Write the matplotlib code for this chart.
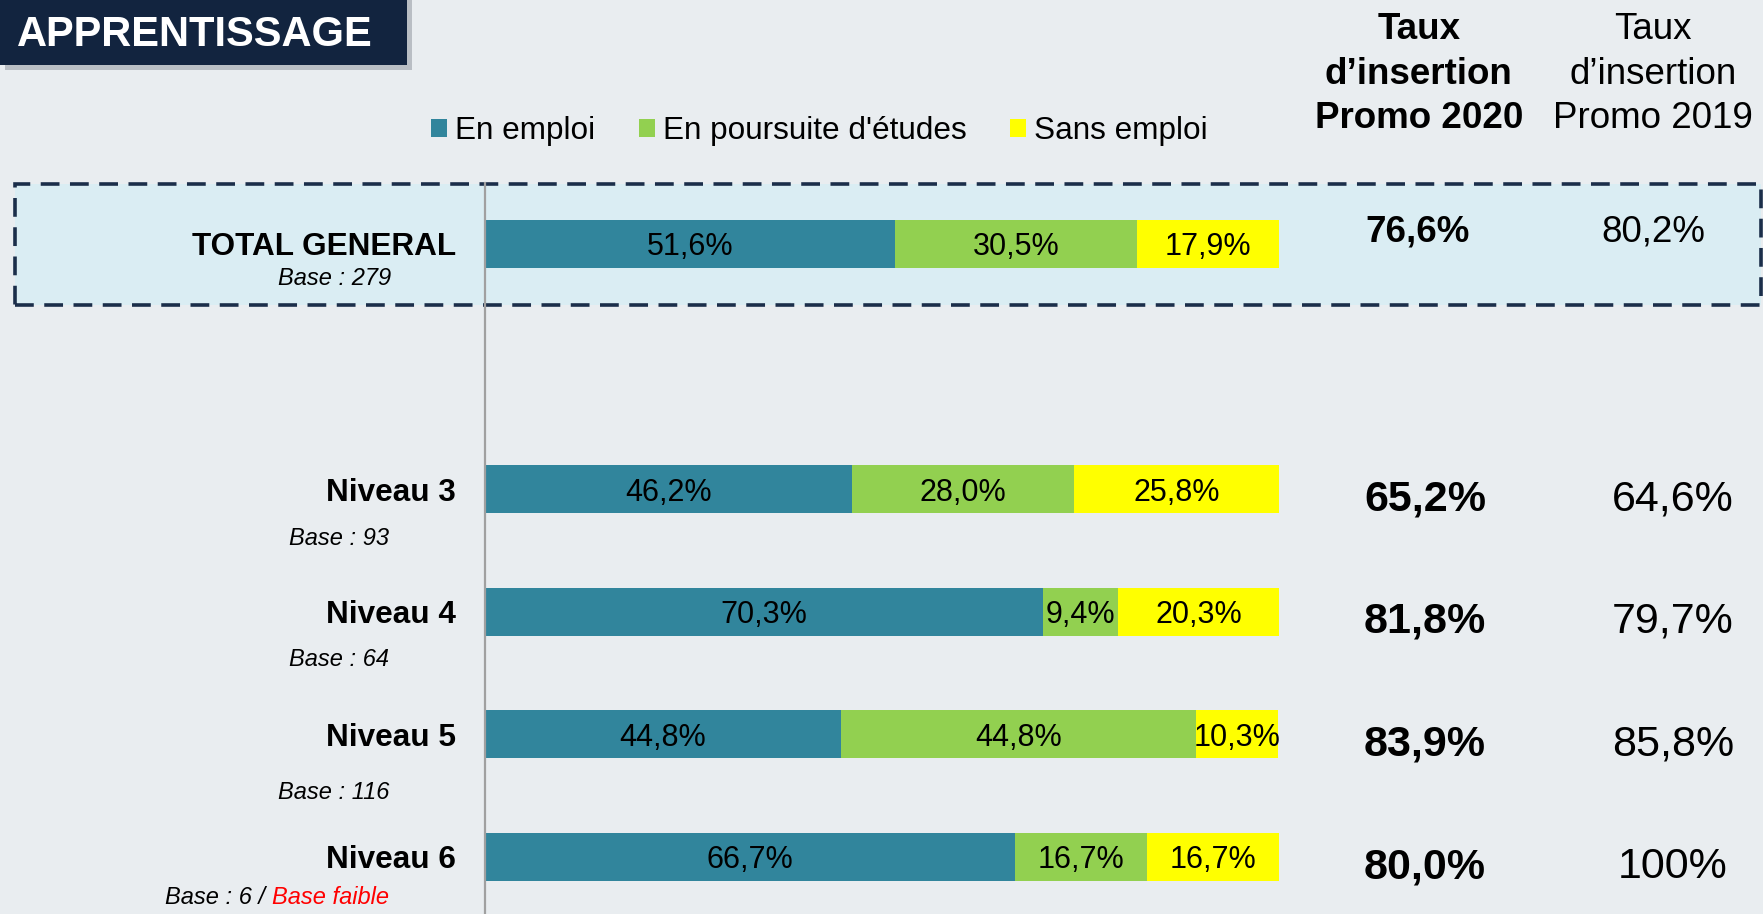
import matplotlib.pyplot as plt
from matplotlib.patches import Rectangle

plt.rcParams['font.family'] = ['Liberation Sans', 'DejaVu Sans']

categories = ['TOTAL GENERAL', 'Niveau 3', 'Niveau 4', 'Niveau 5', 'Niveau 6']
bases = ['Base : 279', 'Base : 93', 'Base : 64', 'Base : 116', 'Base : 6']
low_base = [False, False, False, False, True]
series_labels = ['En emploi', "En poursuite d'études", 'Sans emploi']
en_emploi = [51.6, 46.2, 70.3, 44.8, 66.7]
poursuite = [30.5, 28.0, 9.4, 44.8, 16.7]
sans_emploi = [17.9, 25.8, 20.3, 10.3, 16.7]
taux_2020 = ['76,6%', '65,2%', '81,8%', '83,9%', '80,0%']
taux_2019 = ['80,2%', '64,6%', '79,7%', '85,8%', '100%']

colors = ['#31859C', '#92D050', '#FFFF00']
bg = '#E9EDF0'
navy = '#12243F'

W, H = 1763, 914
fig = plt.figure(figsize=(W / 100, H / 100), dpi=100, facecolor=bg)

# total row on top, gap, then the levels
pos = [0, 2, 3, 4, 5]

# highlighted box around total row
fig.add_artist(Rectangle((15 / W, 1 - 305 / H), (1761 - 15) / W, 121 / H,
                         transform=fig.transFigure, facecolor='#DAEDF3',
                         edgecolor='#1B2E4A', lw=2.6, ls=(0, (5.2, 2.9)),
                         zorder=-1))

# header box + shadow
fig.add_artist(Rectangle((5 / W, 1 - 70 / H), 407 / W, 70 / H,
                         transform=fig.transFigure, facecolor='#9AA0A8',
                         edgecolor='none', alpha=0.6, zorder=2))
fig.add_artist(Rectangle((0, 1 - 65 / H), 407 / W, 65 / H,
                         transform=fig.transFigure, facecolor=navy,
                         edgecolor='none', zorder=3))
fig.text(17 / W, 1 - 31 / H, 'APPRENTISSAGE', color='white', fontsize=30,
         fontweight='bold', ha='left', va='center_baseline', zorder=4)

ax = fig.add_axes([485 / W, 0, 794 / W, (H - 182.7) / H])
ax.set_facecolor('none')
ax.set_xlim(0, 100)
ax.set_ylim(5.465, -0.5)
for s in ['top', 'right', 'bottom']:
    ax.spines[s].set_visible(False)
ax.spines['left'].set_color('#A0A0A0')
ax.spines['left'].set_linewidth(1.6)
ax.set_xticks([])
ax.set_yticks([])

left = [0] * len(pos)
handles = []
for vals, col, lab in zip([en_emploi, poursuite, sans_emploi], colors, series_labels):
    bars = ax.barh(pos, vals, left=left, height=0.39, color=col, label=lab)
    txts = ax.bar_label(bars, labels=[f'{v:.1f}'.replace('.', ',') + '%' for v in vals],
                        label_type='center', fontsize=22, color='black')
    for t in txts:
        t.set_va('center_baseline')
    handles.append(bars)
    left = [a + b for a, b in zip(left, vals)]

# row labels
for i, (y, cat, base) in enumerate(zip(pos, categories, bases)):
    ax.text(-3.65, y, cat, ha='right', va='center_baseline', fontsize=22.7,
            fontweight='bold', clip_on=False)
    if i == 0:
        ax.text(-18.9, y + 0.285, base, ha='center', va='center', fontsize=17,
                style='italic', clip_on=False)
    else:
        off = [0.406, 0.393, 0.47, 0.33][i - 1]
        if low_base[i]:
            red = ax.text(-12.1, y + off, 'Base faible', ha='right', va='center',
                          fontsize=17, style='italic', color='#FF0000', clip_on=False)
            ax.annotate(base + ' / ', xy=(0, 0), xycoords=red, ha='right',
                        va='bottom', fontsize=17, style='italic',
                        annotation_clip=False)
        else:
            ax.text(-12.1, y + off, base, ha='right', va='center', fontsize=17,
                    style='italic', clip_on=False)

# rate columns
ax.text(117.6, -1.385, 'Taux\nd\u2019insertion\nPromo 2020', ha='center', va='center',
        fontsize=26.5, fontweight='bold', linespacing=1.36, clip_on=False)
ax.text(147.1, -1.385, 'Taux\nd\u2019insertion\nPromo 2019', ha='center', va='center',
        fontsize=26.5, linespacing=1.36, clip_on=False)
for i, (y, t20, t19) in enumerate(zip(pos, taux_2020, taux_2019)):
    if i == 0:
        ax.text(117.5, y - 0.13, t20, ha='center', va='center_baseline',
                fontsize=26.5, fontweight='bold', clip_on=False)
        ax.text(147.1, y - 0.13, t19, ha='center', va='center_baseline',
                fontsize=26.5, clip_on=False)
    else:
        ax.text(118.4, y + 0.045, t20, ha='center', va='center_baseline',
                fontsize=31, fontweight='bold', clip_on=False)
        ax.text(149.6, y + 0.045, t19, ha='center', va='center_baseline',
                fontsize=31, clip_on=False)

fig.legend(handles, series_labels, loc='center left',
           bbox_to_anchor=(431 / W, 1 - 131 / H), ncol=3, frameon=False,
           fontsize=22.7, handlelength=0.5, handleheight=0.5,
           handletextpad=0.25, columnspacing=1.4, borderpad=0, borderaxespad=0)

fig.savefig('out.png', dpi=100, facecolor=bg)
